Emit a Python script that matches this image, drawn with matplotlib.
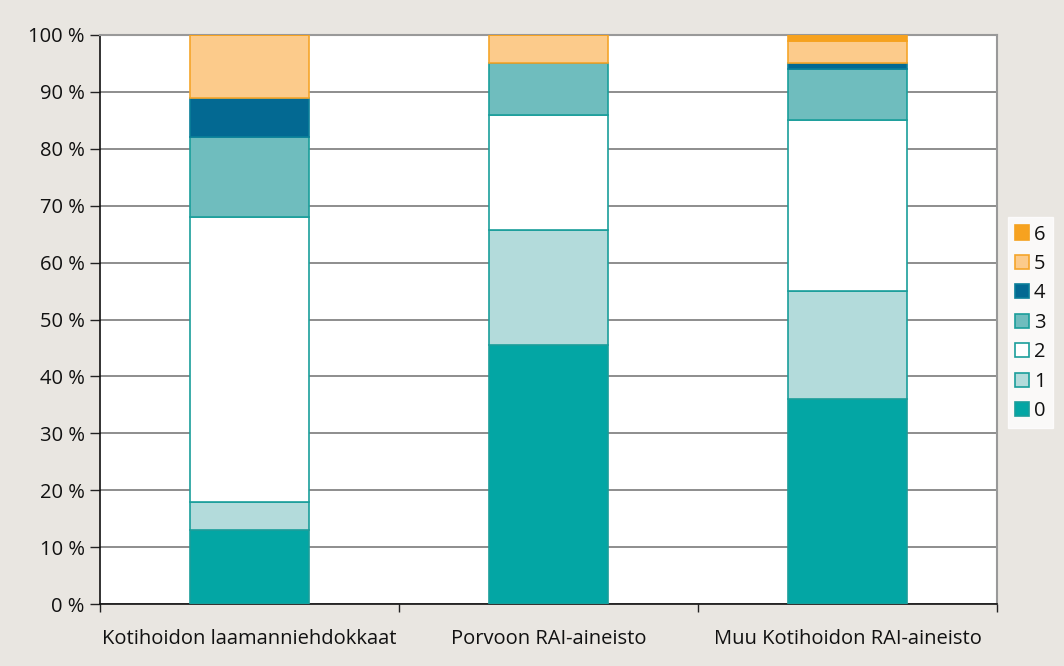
import matplotlib
matplotlib.use("Agg")
import matplotlib.pyplot as plt
import numpy as np

plt.rcParams['font.family'] = ['Open Sans', 'DejaVu Sans']

categories = ["Kotihoidon laamanniehdokkaat", "Porvoon RAI-aineisto", "Muu Kotihoidon RAI-aineisto"]
levels = ["0", "1", "2", "3", "4", "5", "6"]
share_0 = [13.0, 45.5, 36.0]
share_1 = [5.0, 20.2, 19.0]
share_2 = [50.0, 20.2, 30.0]
share_3 = [14.0, 9.1, 9.0]
share_4 = [7.0, 0.0, 1.0]
share_5 = [11.0, 5.0, 4.0]
share_6 = [0.0, 0.0, 1.0]
series = [share_0, share_1, share_2, share_3, share_4, share_5, share_6]

fills = ["#03a6a4", "#b3dbdb", "#ffffff", "#6fbdbe", "#036992", "#fccb8b", "#f7a21f"]
edges = ["#1a9e9b", "#1a9e9b", "#1a9e9b", "#1a9e9b", "#0b7f9a", "#f5a52a", "#f5a21f"]

fs = 14.5
bg = "#e9e6e1"
fig = plt.figure(figsize=(10.64, 6.66), dpi=100, facecolor=bg)
ax = fig.add_axes([100/1064, 62/666, 897/1064, 569/666])
ax.set_facecolor("white")

x = np.arange(len(categories))
bottom = np.zeros(len(categories))
handles = []
for vals, fc, ec, lab in zip(series, fills, edges, levels):
    vals = np.array(vals)
    b = ax.bar(x, vals, width=0.4, bottom=bottom, color=fc, edgecolor=ec,
               linewidth=1.2, label=lab, zorder=3)
    handles.append(b)
    bottom += vals

ax.set_xlim(-0.5, 2.5)
ax.set_ylim(0, 100)
ax.set_yticks(np.arange(0, 101, 10))
ax.set_yticklabels([f"{v} %" for v in range(0, 101, 10)], fontsize=fs, color="#111111")
ax.yaxis.grid(True, color="#7a7a7a", linewidth=1.2, zorder=0)
ax.set_axisbelow(True)

ax.set_xticks([-0.5, 0.5, 1.5, 2.5])
ax.set_xticklabels([])
ax.set_xticks(x, minor=True)
ax.set_xticklabels(categories, minor=True, fontsize=fs, color="#111111")
ax.tick_params(axis="x", which="minor", length=0, pad=18)
ax.tick_params(axis="x", which="major", length=6, width=1, color="#222222", direction="out")
ax.tick_params(axis="y", length=7, width=1, color="#222222", direction="out", pad=4)

for side in ["top", "right"]:
    ax.spines[side].set_color("#999999")
    ax.spines[side].set_linewidth(1.5)
for side in ["left", "bottom"]:
    ax.spines[side].set_color("#111111")
    ax.spines[side].set_linewidth(1.2)

leg = ax.legend(handles[::-1], levels[::-1], loc="center left",
                bbox_to_anchor=(1.012, 0.494), frameon=True, fancybox=False,
                fontsize=fs, handlelength=0.7, handleheight=0.7,
                handletextpad=0.25, labelspacing=0.47, borderpad=0.35,
                borderaxespad=0)
leg.get_frame().set_facecolor("white")
leg.get_frame().set_edgecolor("white")
for t in leg.get_texts():
    t.set_color("#111111")

fig.savefig("out.png", dpi=100, facecolor=bg)
